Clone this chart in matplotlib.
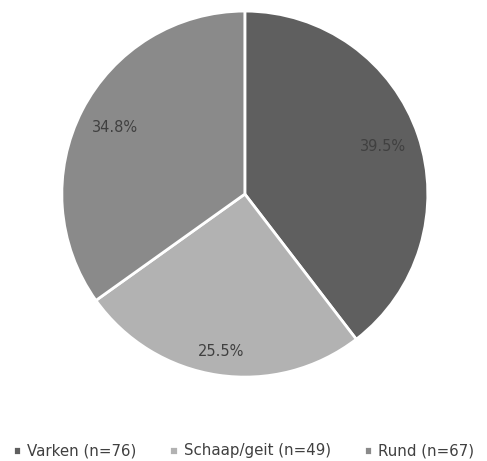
import numpy as np
import matplotlib.pyplot as plt

categories = ['Varken (n=76)', 'Schaap/geit (n=49)', 'Rund (n=67)']
percentages = [39.5, 25.5, 34.8]
colors = ['#5f5f5f', '#b2b2b2', '#8a8a8a']
label_dist = [0.8, 0.87, 0.8]

fig = plt.figure(figsize=(4.87, 4.61), dpi=100)
ax = fig.add_axes([0.127, 0.182, 0.7515, 0.794])

pct_labels = iter(['%.1f%%' % p for p in percentages])
wedges, texts, autotexts = ax.pie(
    percentages, colors=colors, startangle=90, counterclock=False,
    autopct=lambda v: next(pct_labels), pctdistance=0.8,
    wedgeprops=dict(edgecolor='white', linewidth=2),
    textprops=dict(color='#404040', fontsize=10.5))
for w, t, d in zip(wedges, autotexts, label_dist):
    ang = np.deg2rad((w.theta1 + w.theta2) / 2)
    t.set_position((d * np.cos(ang), d * np.sin(ang)))
ax.set_aspect('auto')
ax.set_xlim(-1, 1)
ax.set_ylim(-1, 1)

fig.legend(wedges, categories, loc='center', bbox_to_anchor=(0.5, 0.022),
           ncol=3, frameon=False, fontsize=10.8, handlelength=0.55, handleheight=0.55,
           handletextpad=0.4, columnspacing=2.2, labelcolor='#404040')

fig.savefig('out.png', dpi=100)
